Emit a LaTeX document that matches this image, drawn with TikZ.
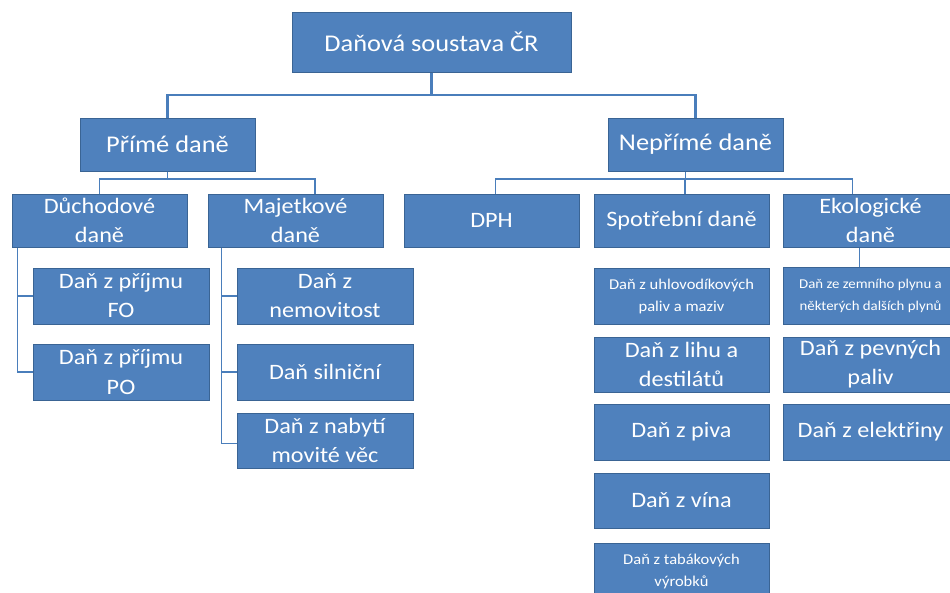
\documentclass[tikz,border=0pt]{standalone}
\usepackage{fontspec}
\setmainfont[FakeStretch=1.1]{Carlito}
\definecolor{boxfill}{HTML}{4F81BD}
\definecolor{boxline}{HTML}{3A6494}
\definecolor{conn}{HTML}{4A7EBB}
\begin{document}
\begin{tikzpicture}[x=1pt,y=-1pt,
  tbox/.style={draw=boxline,line width=1pt,fill=boxfill,text=white,align=center,inner sep=0pt,
     minimum width=175pt,minimum height=54pt,font=\fontsize{22}{29}\selectfont},
  bigtxt/.style={font=\fontsize{24}{28}\selectfont},
  smalltxt/.style={font=\fontsize{15}{22}\selectfont},
  tinytxt/.style={font=\fontsize{13.5}{22}\selectfont},
  main/.style={draw=conn,line width=2.8pt},
  sub/.style={draw=conn,line width=1.6pt}]
\useasboundingbox (0,0) rectangle (950,592);
\clip (0,0) rectangle (950,592);
% level 0
\node[tbox,bigtxt,minimum width=279pt,minimum height=60pt] (root) at (431.5,42) {Daňová soustava ČR};
% level 1
\node[tbox,bigtxt,minimum height=53pt] (prime) at (167.5,144.5) {Přímé daně};
\node[tbox,bigtxt,minimum height=53pt] (neprime) at (695.5,144.5) {Nepřímé daně};
% level 2
\node[tbox,minimum height=53pt] (duch) at (99.5,220.5) {Důchodové\\daně};
\node[tbox,minimum height=53pt] (maj) at (295.5,220.5) {Majetkové\\daně};
\node[tbox,minimum height=53pt] (dph) at (491.5,220.5) {DPH};
\node[tbox,minimum height=53pt] (spot) at (681.5,220.5) {Spotřební daně};
\node[tbox,minimum height=53pt] (eko) at (870.5,220.5) {Ekologické\\daně};
% level 3 left
\node[tbox,minimum width=176pt,minimum height=56pt] (fo) at (121,296) {Daň z příjmu\\FO};
\node[tbox,minimum width=176pt,minimum height=56pt] (po) at (121,372) {Daň z příjmu\\PO};
\node[tbox,minimum width=176pt,minimum height=56pt] (nem) at (325,296) {Daň z\\nemovitost};
\node[tbox,minimum width=176pt,minimum height=56pt] (siln) at (325,372) {Daň silniční};
\node[tbox,minimum width=176pt,minimum height=55pt] (nab) at (325,440.5) {Daň z nabytí\\movité věc};
% level 3 spotrebni
\node[tbox,smalltxt,minimum height=56pt] (uhl) at (681.5,296) {Daň z uhlovodíkových\\paliv a maziv};
\node[tbox,minimum height=55pt] (lih) at (681.5,364.5) {Daň z lihu a\\destilátů};
\node[tbox,minimum height=56pt] (piva) at (681.5,432) {Daň z piva};
\node[tbox,minimum height=55pt] (vina) at (681.5,500.5) {Daň z vína};
\node[tbox,smalltxt,minimum height=56pt] (tabak) at (681.5,571) {Daň z tabákových\\výrobků};
% level 3 ekologicke
\node[tbox,tinytxt,minimum height=57pt] (zemni) at (870.5,295.5) {Daň ze zemního plynu a\\některých dalších plynů};
\node[tbox,minimum height=55pt] (pevne) at (870.5,364.5) {Daň z pevných\\paliv};
\node[tbox,minimum height=56pt] (elek) at (870.5,432) {Daň z elektřiny};
% connectors
\coordinate (rb) at (root.south |- 0,95);
\draw[main] (root.south) -- (rb);
\draw[main] (prime.north) |- (rb) -| (neprime.north);
\coordinate (pb) at (prime.south |- 0,179);
\draw[sub] (prime.south) -- (pb);
\draw[sub] (duch.north) |- (pb) -| ([xshift=19.5pt]maj.north);
\coordinate (nb) at ([xshift=-10pt]neprime.south |- 0,179);
\draw[sub] ([xshift=-10pt]neprime.south) -- (nb);
\draw[sub] ([xshift=4pt]dph.north) |- (nb) -| ([xshift=-18pt]eko.north);
\draw[sub] ([xshift=3.5pt]spot.north) -- ([xshift=3.5pt]spot.north |- nb);
% left bracket
\draw[sub] ([xshift=6pt]duch.south west) |- (po.west);
\draw[sub] ([xshift=6pt]duch.south west |- fo.west) -- (fo.west);
% majetkove bracket
\draw[sub] ([xshift=14pt]maj.south west) |- ([yshift=-3pt]nab.west);
\draw[sub] ([xshift=14pt]maj.south west |- nem.west) -- (nem.west);
\draw[sub] ([xshift=14pt]maj.south west |- siln.west) -- (siln.west);
% ekologicke
\draw[sub] ([xshift=-11pt]eko.south) -- ([xshift=-11pt]eko.south |- zemni.north);
\end{tikzpicture}
\end{document}
